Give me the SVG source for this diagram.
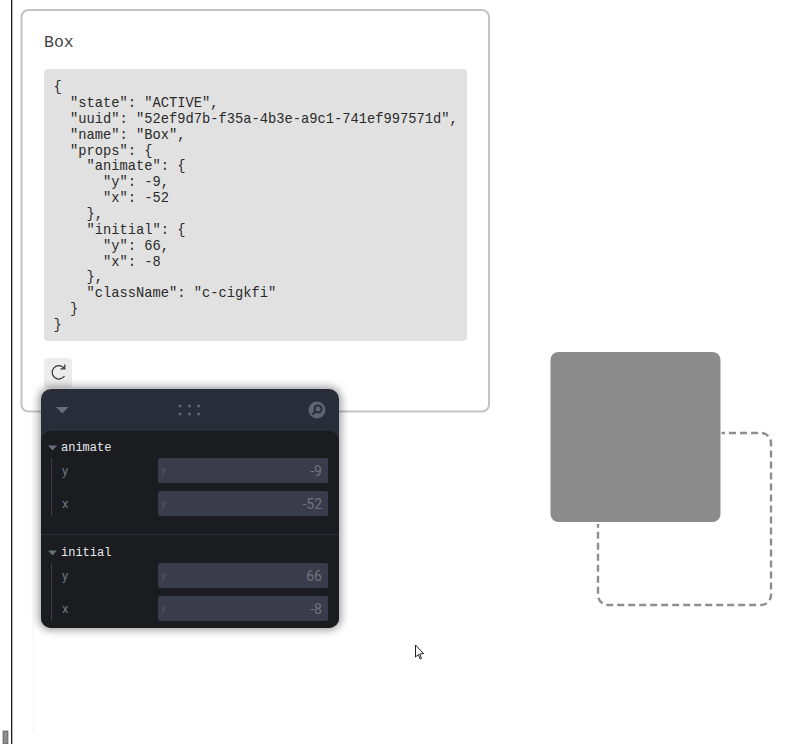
<svg xmlns="http://www.w3.org/2000/svg" width="800" height="744" viewBox="0 0 800 744">
<defs>
<filter id="sh" x="-20%" y="-20%" width="140%" height="140%"><feGaussianBlur stdDeviation="4"/></filter>
<style>
.code{font-family:"Liberation Mono",monospace;font-size:13.75px;fill:#2a2a2a;white-space:pre}
.lbl{font-family:"Liberation Mono",monospace;font-size:12px;fill:#e8e9ee}
.key{font-family:"Roboto","Liberation Sans",sans-serif;font-size:13px;fill:#70747f}
.val{font-family:"Roboto","Liberation Sans",sans-serif;font-size:14px;fill:#70747f;text-anchor:end}
.ph{font-family:"Roboto","Liberation Sans",sans-serif;font-size:10px;fill:#535663}
.field{fill:#3a3c4b}
.tri{fill:#6a6e7a}
.grip{fill:#5f6372}
</style>
</defs>
<rect width="800" height="744" fill="#ffffff"/>
<g id="page-edge">
<rect x="11" y="0" width="1.3" height="744" fill="#1a1a1a"/>
<rect x="3" y="731" width="5" height="13" fill="#8e8e8e" stroke="#444" stroke-width="0.6"/>
<rect x="33" y="412" width="1" height="320" fill="#f4f4f4"/>
</g>
<g id="card">
<rect x="21.500" y="10" width="467.500" height="401.500" rx="7" fill="#ffffff" stroke="#c4c4c4" stroke-width="2"/>
<text x="44" y="47" font-family="Liberation Mono, monospace" font-size="16.500" fill="#444">Box</text>
<rect x="44" y="69" width="423" height="272" rx="4" fill="#e1e1e1"/>
<text class="code" xml:space="preserve"><tspan x="53.500" y="91">{</tspan><tspan x="53.500" y="106.900">  "state": "ACTIVE",</tspan><tspan x="53.500" y="122.700">  "uuid": "52ef9d7b-f35a-4b3e-a9c1-741ef997571d",</tspan><tspan x="53.500" y="138.600">  "name": "Box",</tspan><tspan x="53.500" y="154.500">  "props": {</tspan><tspan x="53.500" y="170.300">    "animate": {</tspan><tspan x="53.500" y="186.200">      "y": -9,</tspan><tspan x="53.500" y="202.100">      "x": -52</tspan><tspan x="53.500" y="218">    },</tspan><tspan x="53.500" y="233.800">    "initial": {</tspan><tspan x="53.500" y="249.700">      "y": 66,</tspan><tspan x="53.500" y="265.600">      "x": -8</tspan><tspan x="53.500" y="281.400">    },</tspan><tspan x="53.500" y="297.300">    "className": "c-cigkfi"</tspan><tspan x="53.500" y="313.200">  }</tspan><tspan x="53.500" y="329">}</tspan></text>
<rect x="44" y="358" width="28" height="30" rx="4" fill="#ececec"/>
<path d="M64 368 A6.700 6.700 0 1 0 64.500 376" fill="none" stroke="#333" stroke-width="1.200"/>
<path d="M64.800 364.500 V368.800 H60.500" fill="none" stroke="#333" stroke-width="1.200"/>
</g>
<g id="panel">
<rect x="39" y="387" width="302" height="243" rx="12" fill="#000" opacity="0.4" filter="url(#sh)"/>
<rect x="41" y="389" width="298" height="239" rx="10" fill="#292d39"/>
<path d="M41 441 a10 10 0 0 1 10 -10 H329 a10 10 0 0 1 10 10 V618 a10 10 0 0 1 -10 10 H51 a10 10 0 0 1 -10 -10 Z" fill="#1a1c20"/>
<path class="tri" d="M56 407 H68.500 L62.250 413.500 Z"/>
<g class="grip"><circle cx="180" cy="406" r="1.600"/><circle cx="189.500" cy="406" r="1.600"/><circle cx="198.500" cy="406" r="1.600"/><circle cx="180" cy="414" r="1.600"/><circle cx="189.500" cy="414" r="1.600"/><circle cx="198.500" cy="414" r="1.600"/></g>
<circle cx="317" cy="410" r="8.500" fill="#5f6372"/>
<circle cx="318" cy="409" r="3.500" fill="none" stroke="#292d39" stroke-width="2"/>
<path d="M315.500 411.500 L312.500 414.500" stroke="#292d39" stroke-width="2"/>
</g>
<g id="group-animate">
<path class="tri" d="M48 445.500 H57 L52.500 450.500 Z"/>
<text class="lbl" x="61" y="451">animate</text>
<rect x="51" y="458" width="1" height="58" fill="#3a3c4b"/>
<text class="key" x="62" y="475">y</text>
<rect class="field" x="158" y="458" width="170" height="25" rx="2"/>
<text class="ph" x="161" y="474">y</text>
<text class="val" x="322" y="476">-9</text>
<text class="key" x="62" y="508">x</text>
<rect class="field" x="158" y="491" width="170" height="25" rx="2"/>
<text class="ph" x="161" y="507">y</text>
<text class="val" x="322" y="509">-52</text>
<rect x="41" y="534" width="298" height="1" fill="#292d39"/>
</g>
<g id="group-initial">
<path class="tri" d="M48 550.500 H57 L52.500 555.500 Z"/>
<text class="lbl" x="61" y="556">initial</text>
<rect x="51" y="563" width="1" height="58" fill="#3a3c4b"/>
<text class="key" x="62" y="580">y</text>
<rect class="field" x="158" y="563" width="170" height="25" rx="2"/>
<text class="ph" x="161" y="579">y</text>
<text class="val" x="322" y="581">66</text>
<text class="key" x="62" y="613">x</text>
<rect class="field" x="158" y="596" width="170" height="25" rx="2"/>
<text class="ph" x="161" y="612">y</text>
<text class="val" x="322" y="614">-8</text>
</g>
<g id="ghost-box">
<rect x="598" y="433" width="173" height="172" rx="10" fill="#ffffff" stroke="#8e8e8e" stroke-width="2.400" stroke-dasharray="7 4"/>
</g>
<g id="solid-box">
<rect x="549.500" y="351" width="172" height="173" rx="9" fill="#ffffff"/>
<rect x="550.500" y="352" width="170" height="170" rx="8" fill="#8c8c8c"/>
</g>
<g id="cursor">
<path d="M415.500 645 V657 L418.300 654.500 L420 659 L421.500 658.300 L419.800 654 L423.500 653.500 Z" fill="#ffffff" stroke="#222" stroke-width="1"/>
</g>
</svg>
